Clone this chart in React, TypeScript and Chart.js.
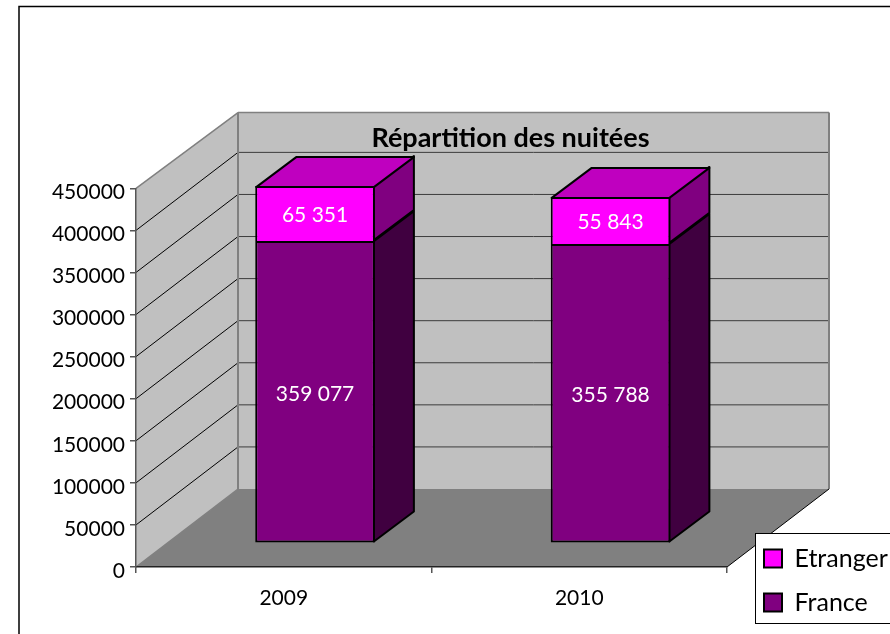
import React, { useEffect, useRef } from "react";
import { Chart, registerables } from "chart.js";

Chart.register(...registerables);

const categories = ["2009", "2010"];
const franceValues = [359077, 355788];
const etrangerValues = [65351, 55843];
const chartTitle = "Répartition des nuitées";
const FONT = "Lato, Carlito, sans-serif";

// 3D projection offsets (pixels)
const WALL_DX = 102, WALL_DY = -78, WALL_TOP_DY = -75.7;
const BAR_DX = 31.3, BAR_DY = -23.7;
const DEPTH_DX = 40, DEPTH_DY = -30;

const poly = (ctx: any, pts: number[][], fill: string | null, stroke: string | null, lw = 1) => {
  ctx.beginPath();
  pts.forEach((p, i) => (i ? ctx.lineTo(p[0], p[1]) : ctx.moveTo(p[0], p[1])));
  ctx.closePath();
  if (fill) { ctx.fillStyle = fill; ctx.fill(); }
  if (stroke) { ctx.strokeStyle = stroke; ctx.lineWidth = lw; ctx.lineJoin = "round"; ctx.stroke(); }
};

const line = (ctx: any, x1: number, y1: number, x2: number, y2: number, color: string, lw = 1) => {
  ctx.beginPath();
  ctx.moveTo(x1, y1);
  ctx.lineTo(x2, y2);
  ctx.strokeStyle = color;
  ctx.lineWidth = lw;
  ctx.stroke();
};

const sideColors = ["#400040", "#800080"];
const topColor = "#BF00BF";

const box3d = {
  id: "box3d",
  beforeDraw(chart: any) {
    const { ctx, chartArea: a, scales } = chart;
    const y = scales.y;
    ctx.save();
    ctx.fillStyle = "#ffffff";
    ctx.fillRect(0, 0, chart.width, chart.height);
    // outer frame (its right and bottom sides fall outside the picture)
    ctx.strokeStyle = "#000000";
    ctx.lineWidth = 1.5;
    ctx.strokeRect(19, 6.5, 900, 660);
    const L = a.left, R = a.right, T = a.top, B = a.bottom;
    const BT = T + WALL_TOP_DY;
    // left wall, back wall, floor
    poly(ctx, [[L, T], [L + WALL_DX, BT], [L + WALL_DX, B + WALL_DY], [L, B]], "#C0C0C0", null);
    poly(ctx, [[L + WALL_DX, BT], [R + WALL_DX, BT], [R + WALL_DX, B + WALL_DY], [L + WALL_DX, B + WALL_DY]], "#C0C0C0", null);
    poly(ctx, [[L, B], [L + WALL_DX, B + WALL_DY], [R + WALL_DX, B + WALL_DY], [R, B]], "#808080", null);
    // grid lines
    y.ticks.forEach((t: any) => {
      if (t.value === 0 || t.value === y.max) return;
      const p = y.getPixelForValue(t.value);
      line(ctx, L, p, L + WALL_DX, p + WALL_DY, "#000000", 1);
      line(ctx, L + WALL_DX, p + WALL_DY, R + WALL_DX, p + WALL_DY, "#3c3c3c", 1);
    });
    // wall edges
    line(ctx, L, T, L + WALL_DX, BT, "#808080", 1.5);
    line(ctx, L + WALL_DX, BT, R + WALL_DX, BT, "#808080", 1.5);
    line(ctx, L + WALL_DX, BT, L + WALL_DX, B + WALL_DY, "#808080", 2);
    line(ctx, R + WALL_DX, BT, R + WALL_DX, B + WALL_DY, "#808080", 2);
    line(ctx, L, B, L + WALL_DX, B + WALL_DY, "#808080", 1.5);
    line(ctx, R, B, R + WALL_DX, B + WALL_DY, "#000000", 1);
    // legend box
    ctx.fillStyle = "#ffffff";
    ctx.fillRect(755.5, 533.5, 140, 90);
    ctx.strokeStyle = "#000000";
    ctx.lineWidth = 1;
    ctx.strokeRect(755.5, 533.5, 140, 90);
    ctx.restore();
  },
  afterLayout(chart: any) {
    const t = chart.titleBlock;
    if (t) {
      const h = t.bottom - t.top;
      t.left = 260.5; t.right = 760.5;
      t.top = 138 - h / 2; t.bottom = t.top + h;
    }
    const l = chart.legend;
    if (l) {
      const w = l.right - l.left, h = l.bottom - l.top;
      l.left = 745; l.top = 527; l.right = l.left + w; l.bottom = l.top + h;
    }
  },
  beforeDatasetsDraw(chart: any) {
    const { ctx } = chart;
    ctx.save();
    ctx.translate(BAR_DX, BAR_DY);
    chart.getSortedVisibleDatasetMetas().forEach((meta: any, ds: number) => {
      meta.data.forEach((el: any) => {
        const p = el.getProps(["x", "y", "base", "width"], true);
        const left = p.x - p.width / 2, right = p.x + p.width / 2;
        const top = p.y, base = p.base;
        poly(ctx, [[right - 1, base - 1], [right - 1 + DEPTH_DX, base - 1 + DEPTH_DY], [right - 1 + DEPTH_DX, top + DEPTH_DY], [right - 1, top]], sideColors[ds], "#000000", 2);
        if (ds === 1) {
          poly(ctx, [[left + 1, top + 1], [left + 1 + DEPTH_DX, top + 1 + DEPTH_DY], [right - 1 + DEPTH_DX, top + 1 + DEPTH_DY], [right - 1, top + 1]], topColor, "#000000", 2);
        }
      });
    });
  },
  afterDatasetsDraw(chart: any) {
    const { ctx } = chart;
    ctx.restore();
    ctx.save();
    ctx.fillStyle = "#ffffff";
    ctx.font = `21px ${FONT}`;
    ctx.textAlign = "center";
    ctx.textBaseline = "middle";
    chart.getSortedVisibleDatasetMetas().forEach((meta: any) => {
      const vals = chart.data.datasets[meta.index].data;
      meta.data.forEach((el: any, i: number) => {
        const p = el.getProps(["x", "y", "base"], true);
        const txt = String(vals[i]).replace(/\B(?=(\d{3})+$)/g, " ");
        ctx.fillText(txt, p.x + BAR_DX, (p.y + p.base) / 2 + BAR_DY + 2);
      });
    });
    ctx.restore();
  },
};

export default function App() {
  const ref = useRef<HTMLCanvasElement>(null);
  useEffect(() => {
    const chart = new Chart(ref.current as HTMLCanvasElement, {
      type: "bar",
      data: {
        labels: categories,
        datasets: [
          { label: "France", data: franceValues, backgroundColor: "#800080", borderColor: "#000000", borderWidth: 2, borderSkipped: false, clip: false } as any,
          { label: "Etranger", data: etrangerValues, backgroundColor: "#FF00FF", borderColor: "#000000", borderWidth: 2, borderSkipped: "start", clip: false } as any,
        ],
      },
      options: {
        responsive: false,
        animation: false,
        events: [],
        layout: { padding: { left: 0, right: 163, top: 158.6, bottom: 0 } },
        datasets: { bar: { categoryPercentage: 0.405, barPercentage: 1 } },
        plugins: {
          tooltip: { enabled: false },
          title: {
            display: true,
            text: chartTitle,
            color: "#000000",
            padding: 0,
            font: { family: FONT, size: 27, weight: "bold", lineHeight: 1.1 },
          },
          legend: {
            display: true,
            position: "chartArea",
            align: "start",
            reverse: true,
            labels: {
              color: "#000000",
              font: { family: FONT, size: 25 },
              boxWidth: 18,
              boxHeight: 18,
              padding: 19,
              usePointStyle: false,
              generateLabels(c: any) {
                const items = Chart.defaults.plugins.legend.labels.generateLabels(c);
                items.forEach((it: any) => { it.lineWidth = 2; it.strokeStyle = "#000000"; });
                return items;
              },
            },
          },
        },
        scales: {
          x: {
            stacked: true,
            afterFit(s: any) { s.height = 67; },
            grid: { display: true, drawOnChartArea: false, drawTicks: true, tickLength: 6, color: "#555555", lineWidth: 1.5, offset: true },
            border: { display: true, color: "#222222", width: 1.5 },
            ticks: { color: "#000000", font: { family: FONT, size: 21 }, padding: 13, maxRotation: 0, autoSkip: false },
          },
          y: {
            stacked: true,
            min: 0,
            max: 450000,
            afterFit(s: any) { s.width = 136; },
            grid: { display: true, drawOnChartArea: false, drawTicks: true, tickLength: 6, color: "#555555", lineWidth: 1.5 },
            border: { display: true, color: "#555555", width: 1.5 },
            ticks: { stepSize: 50000, color: "#000000", font: { family: FONT, size: 21 }, padding: 5, labelOffset: 4, callback: (v: any) => String(v) },
          },
        },
      } as any,
      plugins: [box3d],
    });
    return () => chart.destroy();
  }, []);
  return (
    <div style={{ width: 890, height: 634 }}>
      <canvas ref={ref} width={890} height={634} style={{ display: "block", position: "absolute", left: 0, top: 0 }} />
    </div>
  );
}
